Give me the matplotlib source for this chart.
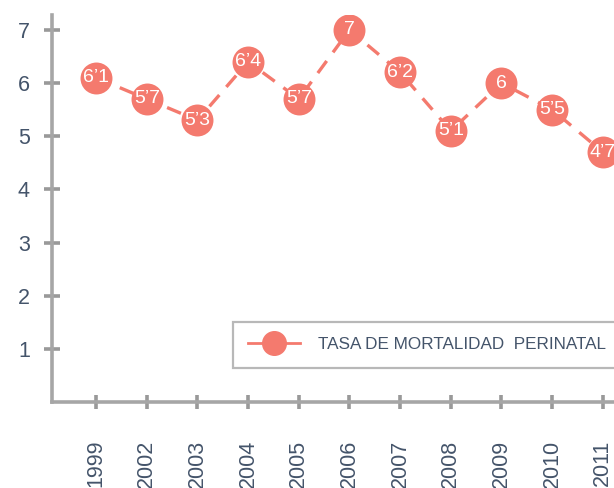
import matplotlib.pyplot as plt
from matplotlib.lines import Line2D

plt.rcParams['font.family'] = ['Liberation Sans', 'DejaVu Sans']

years = ['1999', '2002', '2003', '2004', '2005', '2006', '2007', '2008', '2009', '2010', '2011']
tasa = [6.1, 5.7, 5.3, 6.4, 5.7, 7, 6.2, 5.1, 6, 5.5, 4.7]
etiquetas = ['6’1', '5’7', '5’3', '6’4', '5’7', '7', '6’2', '5’1', '6', '5’5', '4’7']

salmon = '#f47a6e'
gris = '#a6a6a6'
texto = '#44546a'

fig = plt.figure(figsize=(6.14, 4.88), dpi=100)
ax = fig.add_axes([52/614, 86/488, 562/614, 387/488])

x = list(range(len(years)))
ax.plot(x, tasa, color=salmon, lw=2.4, dashes=(4.5, 3.2), marker='o',
        markersize=23, markerfacecolor=salmon, markeredgecolor=salmon,
        markeredgewidth=0, zorder=3)
for xi, v, t in zip(x, tasa, etiquetas):
    ax.text(xi, v, t, color='white', fontsize=14, ha='center', va='center', zorder=4)

ax.set_xlim(-0.87, 10.22)
ax.set_ylim(0, 7.28)
ax.set_yticks([1, 2, 3, 4, 5, 6, 7])
ax.set_xticks(x)
ax.set_xticklabels(years, rotation=90)

for s in ['top', 'right']:
    ax.spines[s].set_visible(False)
for s in ['left', 'bottom']:
    ax.spines[s].set_color(gris)
    ax.spines[s].set_linewidth(2.6)

ax.tick_params(axis='y', direction='inout', length=12, width=2.6, color='#999999',
               labelsize=15.5, labelcolor=texto, pad=10)
ax.tick_params(axis='x', direction='inout', length=10, width=2.6, color='#999999',
               labelsize=15.5, labelcolor=texto, pad=22)

proxy = Line2D([], [], color=salmon, lw=2, marker='o', markersize=17,
               markerfacecolor=salmon, markeredgecolor=salmon)
leg = ax.legend([proxy], ['TASA DE MORTALIDAD  PERINATAL'], loc='upper left',
                bbox_to_anchor=(0.322, 0.207), borderaxespad=0, frameon=True,
                fancybox=False, fontsize=12.3, handlelength=3, borderpad=0.9,
                handletextpad=1.1, labelcolor=texto)
leg.get_frame().set_edgecolor(gris)
leg.get_frame().set_linewidth(1.6)

fig.savefig('out.png', dpi=100)
